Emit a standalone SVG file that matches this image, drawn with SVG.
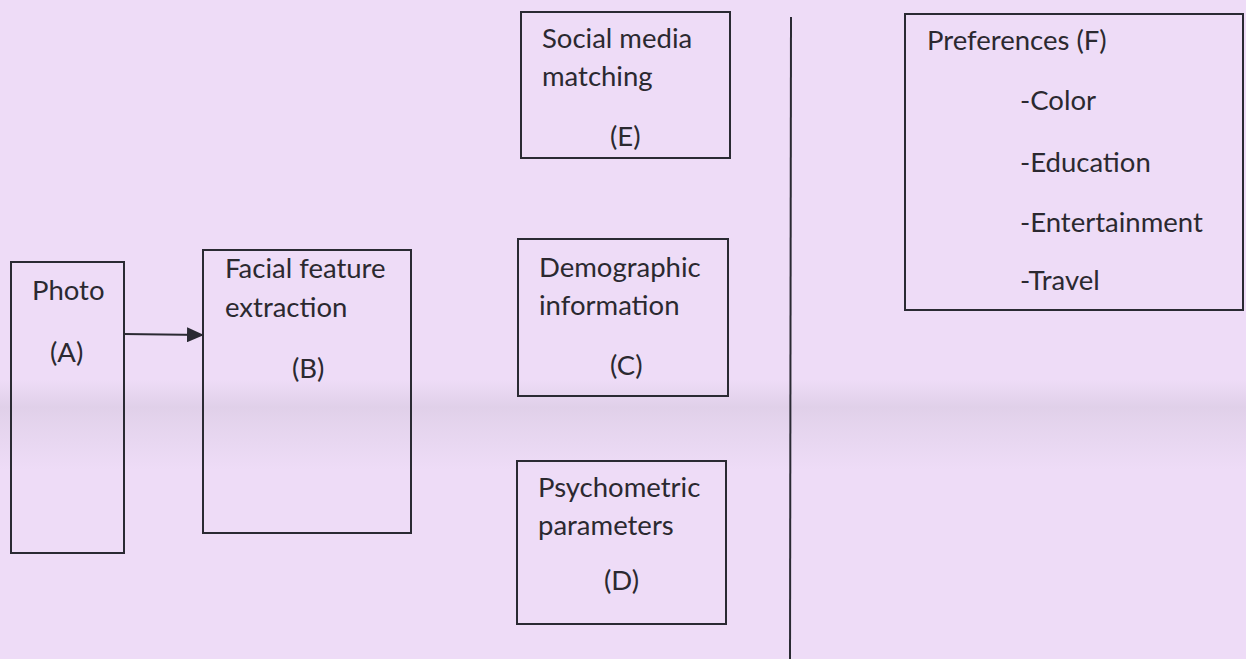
<svg xmlns="http://www.w3.org/2000/svg" width="1246" height="659" viewBox="0 0 1246 659">
<style>
.box{fill:none;stroke:#2a2a33;stroke-width:2}
.t{font-family:Lato,"Open Sans","Liberation Sans",sans-serif;font-size:27.5px;fill:#2b2930}
.conn{stroke:#2a2a33;stroke-width:2;fill:none}
</style>
<defs>
<marker id="ah" markerWidth="17" markerHeight="15" refX="16" refY="7.5" orient="auto" markerUnits="userSpaceOnUse">
<path d="M0,0 L17,7.5 L0,15 Z" fill="#2a2a33"/>
</marker>
<linearGradient id="fold" x1="0" y1="0" x2="0" y2="1">
<stop offset="0" stop-color="#c0b4c8" stop-opacity="0"/>
<stop offset="0.3" stop-color="#c0b4c8" stop-opacity="0.3"/>
<stop offset="0.55" stop-color="#c8bcd0" stop-opacity="0.22"/>
<stop offset="1" stop-color="#c8bcd0" stop-opacity="0"/>
</linearGradient>
</defs>
<rect width="1246" height="659" fill="#eedcf7"/>
<rect x="0" y="380" width="1246" height="90" fill="url(#fold)"/>
<g id="divider"><line x1="791" y1="17" x2="790" y2="659" class="conn"/></g>
<g id="nodeA">
<rect x="11" y="262" width="113" height="291" class="box"/>
<text class="t" x="32" y="300">Photo</text>
<text class="t" x="50" y="362">(A)</text>
</g>
<g id="nodeB">
<rect x="203" y="250" width="208" height="283" class="box"/>
<text class="t" x="225" y="278">Facial feature</text>
<text class="t" x="225" y="317">extraction</text>
<text class="t" x="292" y="378">(B)</text>
</g>
<g id="nodeE">
<rect x="521" y="12" width="209" height="146" class="box"/>
<text class="t" x="542" y="48">Social media</text>
<text class="t" x="542" y="86">matching</text>
<text class="t" x="610" y="146">(E)</text>
</g>
<g id="nodeC">
<rect x="518" y="239" width="210" height="157" class="box"/>
<text class="t" x="539" y="277">Demographic</text>
<text class="t" x="539" y="315">information</text>
<text class="t" x="610" y="375">(C)</text>
</g>
<g id="nodeD">
<rect x="517" y="461" width="209" height="163" class="box"/>
<text class="t" x="538" y="497">Psychometric</text>
<text class="t" x="538" y="535">parameters</text>
<text class="t" x="604" y="590">(D)</text>
</g>
<g id="nodeF">
<rect x="905" y="14" width="338" height="296" class="box"/>
<text class="t" x="927" y="50">Preferences (F)</text>
<text class="t" x="1020" y="110">-Color</text>
<text class="t" x="1020" y="172">-Education</text>
<text class="t" x="1020" y="232">-Entertainment</text>
<text class="t" x="1020" y="290">-Travel</text>
</g>
<g id="connectors">
<line x1="124" y1="334" x2="203" y2="335" class="conn" marker-end="url(#ah)"/>
</g>
</svg>
